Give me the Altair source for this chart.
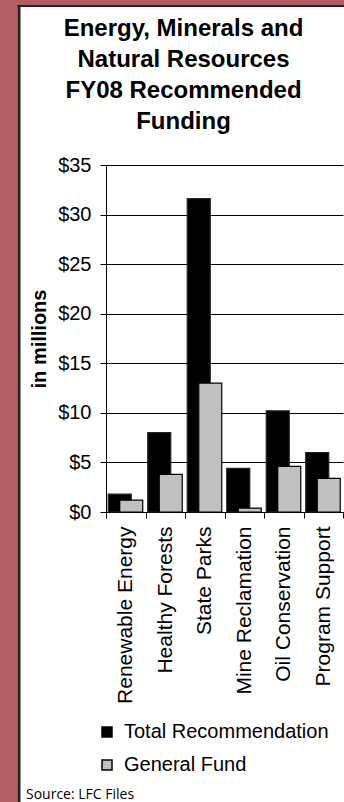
import altair as alt
import pandas as pd

# Program areas and FY08 recommended funding (millions of dollars)
categories = [
    "Renewable Energy",
    "Healthy Forests",
    "State Parks",
    "Mine Reclamation",
    "Oil Conservation",
    "Program Support",
]
total_recommendation = [1.8, 8.0, 31.6, 4.4, 10.2, 6.0]
general_fund = [1.2, 3.8, 13.0, 0.4, 4.6, 3.4]
series_names = ["Total Recommendation", "General Fund"]
series_colors = ["#000000", "#c0c0c0"]
y_ticks = [0, 5, 10, 15, 20, 25, 30, 35]
title_lines = ["Energy, Minerals and", "Natural Resources", "FY08 Recommended", "Funding"]
source_note = "Source: LFC Files"

rows = []
for prog, tot, gf in zip(categories, total_recommendation, general_fund):
    rows.append({"program": prog, "series": series_names[0], "amount": tot})
    rows.append({"program": prog, "series": series_names[1], "amount": gf})
df = pd.DataFrame(rows)

FONT = "Liberation Sans"
BORDER = "#b35e62"
EDGE = "#222222"

x_enc = alt.X(
    "program:N",
    sort=categories,
    scale=alt.Scale(paddingInner=0, paddingOuter=0),
    axis=alt.Axis(
        title=None,
        labelAngle=270,
        labelFontSize=21,
        labelPadding=8,
        labelLimit=0,
        tickBand="extent",
        tickSize=6,
        grid=False,
    ),
)
y_enc = alt.Y(
    "amount:Q",
    scale=alt.Scale(domain=[0, 35], nice=False),
    axis=alt.Axis(
        values=y_ticks,
        labelExpr="'$' + datum.value",
        labelFontSize=20,
        title="in millions",
        titleFontSize=20,
        titleFontWeight="bold",
        titlePadding=8,
        tickSize=6,
        labelPadding=9,
        grid=True,
    ),
)
color_enc = alt.Color(
    "series:N",
    scale=alt.Scale(domain=series_names, range=series_colors),
    legend=alt.Legend(
        title=None,
        orient="none",
        legendX=-9,
        legendY=557,
        symbolType="square",
        symbolSize=100,
        symbolStrokeColor="#000000",
        symbolStrokeWidth=1.5,
        labelFontSize=20,
        labelFont=FONT,
        labelColor="#000000",
        labelLimit=0,
        labelOffset=7,
        rowPadding=13,
        padding=0,
    ),
)

base = alt.Chart(df)

total_bars = (
    base.transform_filter(alt.datum.series == series_names[0])
    .mark_bar(width=23, xOffset=-6, stroke=EDGE, strokeWidth=1.2)
    .encode(x=x_enc, y=y_enc, color=color_enc)
)
gf_bars = (
    base.transform_filter(alt.datum.series == series_names[1])
    .mark_bar(width=23, xOffset=5.5, stroke="#000000", strokeWidth=1.2)
    .encode(x=x_enc, y=y_enc, color=color_enc)
)

# Page frame: coloured strips on the left and top edges with a dark rule
one = alt.Data(values=[{}])
left_strip = alt.Chart(one).mark_rect(color=BORDER).encode(
    x=alt.value(-106), x2=alt.value(-88.5), y=alt.value(-165), y2=alt.value(640)
)
top_strip = alt.Chart(one).mark_rect(color=BORDER).encode(
    x=alt.value(-106), x2=alt.value(240), y=alt.value(-165), y2=alt.value(-160)
)
left_line = alt.Chart(one).mark_rule(color=EDGE, strokeWidth=3).encode(
    x=alt.value(-87), y=alt.value(-160), y2=alt.value(640)
)
top_line = alt.Chart(one).mark_rule(color=EDGE, strokeWidth=2).encode(
    x=alt.value(-88.5), x2=alt.value(240), y=alt.value(-159)
)

# Four-line heading centred over the white panel
heading = alt.Chart(one).mark_text(
    text=title_lines, align="center", baseline="alphabetic",
    font=FONT, fontSize=24, fontWeight="bold", lineHeight=31, color="#000000"
).encode(x=alt.value(77.5), y=alt.value(-129))

source = alt.Chart(one).mark_text(
    text=source_note, align="left", baseline="alphabetic",
    font="Open Sans", fontSize=14, color="#000000"
).encode(x=alt.value(-80), y=alt.value(634))

chart = (
    alt.layer(left_strip, top_strip, left_line, top_line, heading,
              total_bars, gf_bars, source)
    .properties(
        width=237,
        height=347,
        autosize=alt.AutoSizeParams(type="none"),
        padding={"left": 106, "top": 165, "right": 1, "bottom": 290},
    )
    .configure(background="white")
    .configure_view(stroke=None)
    .configure_axis(
        labelFont=FONT,
        labelColor="#000000",
        titleFont=FONT,
        titleColor="#000000",
        domainColor="#000000",
        tickColor="#000000",
        gridColor="#000000",
        gridWidth=1,
        domainWidth=1,
    )
)

chart.save("out.html", embed_options={"renderer": "svg", "actions": False})
